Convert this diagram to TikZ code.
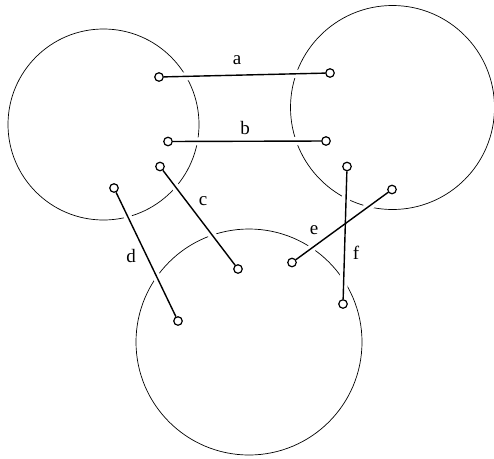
\documentclass[tikz,border=0pt]{standalone}
\usepackage{fontspec}
\setmainfont{Liberation Serif}
\usetikzlibrary{backgrounds}
\tikzset{
    endpt/.style={circle, draw, fill=white, line width=1.2pt, minimum size=8.5pt, inner sep=0pt},
    wire/.style={line width=1.4pt},
    halo/.style={draw=white, line width=8pt},
    lab/.style={font=\fontsize{19}{20}\selectfont, inner sep=0pt}
}
\begin{document}
\begin{tikzpicture}[x=1pt, y=-1pt]
    \useasboundingbox (0,0) rectangle (494,458);

    % 端点
    \node[endpt] (a1) at (159,77) {};
    \node[endpt] (a2) at (330,73) {};
    \node[endpt] (b1) at (168,141.5) {};
    \node[endpt] (b2) at (326,141) {};
    \node[endpt] (c1) at (160,166.5) {};
    \node[endpt] (c2) at (238,269) {};
    \node[endpt] (d1) at (114,188) {};
    \node[endpt] (d2) at (178,321) {};
    \node[endpt] (e1) at (292,262.5) {};
    \node[endpt] (e2) at (392,189.5) {};
    \node[endpt] (f1) at (347,166.5) {};
    \node[endpt] (f2) at (343,304) {};

    \begin{scope}[on background layer]
        % 三个圆
        \draw[line width=0.7pt] (103.5,124.5) circle (95.5pt);
        \draw[line width=0.7pt] (392.5,107.5) circle (102pt);
        \draw[line width=0.7pt] (249,342) circle (113pt);

        % 连线（白边断开圆）
        \foreach \p/\q in {a1/a2, b1/b2, c1/c2, d1/d2, e1/e2, f1/f2}
            \draw[halo] (\p) -- (\q);
        \foreach \p/\q in {a1/a2, b1/b2, c1/c2, d1/d2, e1/e2, f1/f2}
            \draw[wire] (\p) -- (\q);
    \end{scope}

    % 标注
    \node[lab] (la) at (237,60) {a};
    \node[lab] (lb) at (245,128) {b};
    \node[lab] (lc) at (203,201) {c};
    \node[lab] (ld) at (131,256) {d};
    \node[lab] (le) at (314,230) {e};
    \node[lab] (lf) at (356,253) {f};
\end{tikzpicture}
\end{document}
